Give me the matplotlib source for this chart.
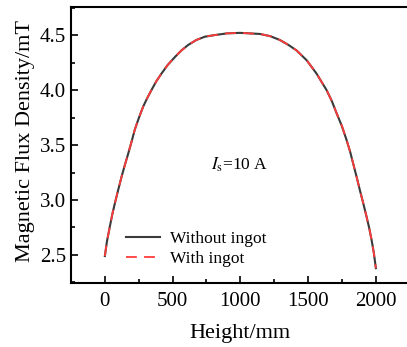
import matplotlib.pyplot as plt
from matplotlib.ticker import MultipleLocator

# values
height = [0, 15, 37, 55, 74, 98, 123, 148, 172, 197, 221, 252, 283, 314,
          344, 380, 418, 465, 517, 565, 615, 675, 738, 812, 900, 996, 1070,
          1144, 1220, 1292, 1355, 1415, 1490, 1562, 1636, 1675, 1710, 1750,
          1784, 1810, 1833, 1858, 1882, 1907, 1931, 1950, 1968, 1985, 2000]
without_ingot = [2.49, 2.62, 2.76, 2.87, 2.97, 3.09, 3.21, 3.32, 3.42, 3.53,
                 3.64, 3.75, 3.85, 3.93, 4.00, 4.08, 4.15, 4.23, 4.30, 4.36,
                 4.41, 4.455, 4.485, 4.50, 4.515, 4.52, 4.515, 4.51, 4.49,
                 4.455, 4.41, 4.36, 4.27, 4.15, 4.00, 3.90, 3.79, 3.67, 3.545,
                 3.44, 3.33, 3.21, 3.09, 2.97, 2.85, 2.75, 2.64, 2.52, 2.38]
with_ingot = [2.49, 2.62, 2.76, 2.87, 2.97, 3.09, 3.21, 3.32, 3.42, 3.53,
              3.64, 3.75, 3.85, 3.93, 4.00, 4.08, 4.15, 4.23, 4.30, 4.36,
              4.41, 4.455, 4.485, 4.50, 4.515, 4.52, 4.515, 4.51, 4.49,
              4.455, 4.41, 4.36, 4.27, 4.15, 4.00, 3.90, 3.79, 3.67, 3.545,
              3.44, 3.33, 3.21, 3.09, 2.97, 2.85, 2.75, 2.64, 2.52, 2.38]

plt.rcParams['font.family'] = ['Liberation Serif', 'DejaVu Serif']
plt.rcParams['mathtext.fontset'] = 'stix'

fig = plt.figure(figsize=(4.07, 3.47), dpi=100)
ax = fig.add_axes([0.1744, 0.1844, 0.8323, 0.7954])

ax.plot(height, without_ingot, color='#3a3a3a', lw=1.5, label='Without ingot')
ax.plot(height, with_ingot, color='#ff3b3b', lw=1.3, dashes=(6, 4), label='With ingot')

ax.set_xlim(-250, 2250)
ax.set_ylim(2.245, 4.755)
ax.xaxis.set_major_locator(MultipleLocator(500))
ax.xaxis.set_minor_locator(MultipleLocator(250))
ax.yaxis.set_major_locator(MultipleLocator(0.5))
ax.yaxis.set_minor_locator(MultipleLocator(0.25))
ax.tick_params(which='both', direction='in', labelsize=15, width=1.2)
ax.tick_params(axis='x', which='both', pad=6.5)
ax.tick_params(which='major', length=5)
ax.tick_params(which='minor', length=3)
for s in ax.spines.values():
    s.set_linewidth(1.5)

ax.set_xlabel('Height/mm', fontsize=16, labelpad=9)
ax.set_ylabel('Magnetic Flux Density/mT', fontsize=16)
ax.yaxis.set_label_coords(-0.105, 0.515)
ax.text(996, 3.32, r'$I_\mathrm{s}$=10 A', fontsize=12.5, ha='center', va='center')

ax.legend(loc='lower left', bbox_to_anchor=(0.115, 0.0), frameon=False,
          fontsize=12.5, handlelength=2.0, handletextpad=0.55, labelspacing=0.25)

plt.savefig('out.png', dpi=100)
